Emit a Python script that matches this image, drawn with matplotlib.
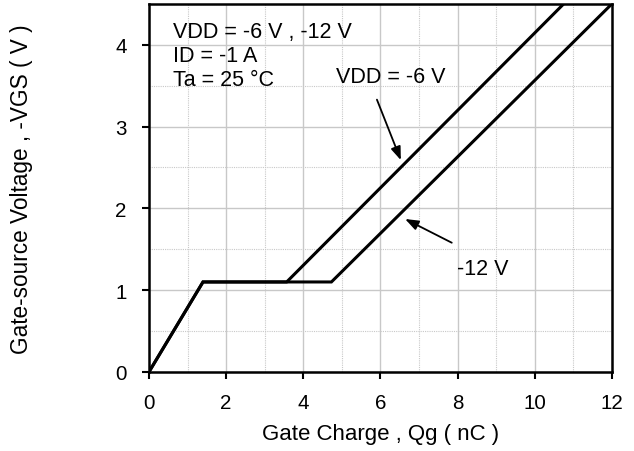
import matplotlib.pyplot as plt

plt.rcParams['font.family'] = ['Liberation Sans', 'DejaVu Sans']

# Gate charge curves (Qg in nC, -VGS in V)
qg_6v = [0, 1.4, 3.57, 10.75]
vgs_6v = [0, 1.1, 1.1, 4.5]
qg_12v = [0, 1.4, 4.73, 12.0]
vgs_12v = [0, 1.1, 1.1, 4.5]

x_ticks = [0, 2, 4, 6, 8, 10, 12]
y_ticks = [0, 1, 2, 3, 4]

fig = plt.figure(figsize=(6.34, 4.52), dpi=100)
ax = fig.add_axes([0.235, 0.175, 0.73, 0.814])

ax.plot(qg_6v, vgs_6v, color='black', lw=2.2, solid_joinstyle='miter', zorder=3)
ax.plot(qg_12v, vgs_12v, color='black', lw=2.2, solid_joinstyle='miter', zorder=3)

ax.set_xlim(0, 12)
ax.set_ylim(0, 4.5)
ax.set_xticks(x_ticks)
ax.set_yticks(y_ticks)
ax.set_xticks([i for i in range(13)], minor=True)
ax.set_yticks([i * 0.5 for i in range(10)], minor=True)
ax.grid(True, which='major', color='#c8c8c8', lw=1.0, zorder=0)
ax.grid(True, which='minor', color='#c8c8c8', lw=0.8, ls=(0, (1, 1)), zorder=0)
ax.tick_params(which='minor', length=0)
ax.tick_params(which='major', direction='out', length=5, width=1.5, labelsize=14.8)
ax.tick_params(axis='x', pad=10)
ax.tick_params(axis='y', pad=11)
for s in ax.spines.values():
    s.set_linewidth(1.8)

ax.set_xlabel('Gate Charge , Qg ( nC )', fontsize=16, va='center')
ax.xaxis.set_label_coords(0.5, -0.168)
ax.set_ylabel('Gate-source Voltage , -VGS ( V )', fontsize=16.3, va='center')
ax.yaxis.set_label_coords(-0.276, 0.5)

ax.text(0.62, 4.16, 'VDD = -6 V , -12 V', fontsize=15.5, va='center')
ax.text(0.62, 3.87, 'ID = -1 A', fontsize=15.5, va='center')
ax.text(0.62, 3.58, 'Ta = 25 °C', fontsize=15.5, va='center')

arrow = dict(arrowstyle='-|>,head_length=0.8,head_width=0.3', color='black', lw=1.3, shrinkA=0, shrinkB=0)
ax.annotate('', xy=(6.53, 2.59), xytext=(5.91, 3.33), arrowprops=arrow)
ax.text(4.85, 3.61, 'VDD = -6 V', fontsize=15.5, va='center')
ax.annotate('', xy=(6.64, 1.87), xytext=(7.85, 1.58), arrowprops=arrow)
ax.text(7.98, 1.27, '-12 V', fontsize=15.5, va='center')

fig.savefig('out.png', dpi=100)
